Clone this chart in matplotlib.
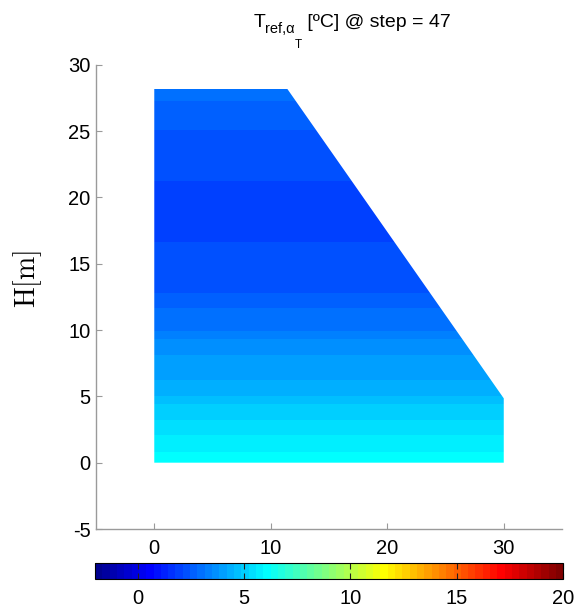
import numpy as np
import matplotlib
matplotlib.use("Agg")
import matplotlib.pyplot as plt
from matplotlib.colors import ListedColormap, Normalize
from matplotlib.patches import Polygon
from matplotlib.cm import ScalarMappable

plt.rcParams['font.family'] = ['Liberation Sans', 'DejaVu Sans']
plt.rcParams['axes.unicode_minus'] = False

# ---- data ----
dam_x = [0.0, 30.0, 30.0, 11.4, 0.0]
dam_y = [0.0, 0.0, 4.85, 28.2, 28.2]
H_nodes = [0.0, 0.8, 2.1, 3.2, 4.4, 5.0, 6.25, 8.1, 9.3, 9.9, 11.7, 12.8,
           16.6, 19.0, 21.2, 25.1, 27.3, 28.2]
T_nodes = [6.1, 5.906, 5.5625, 5.219, 4.875, 4.531, 4.1875, 3.844, 3.5, 3.156,
           2.8125, 2.469, 2.125, 1.95, 2.125, 2.469, 2.8125, 3.0]
c_min, c_max = -2.0, 20.0
x_ticks = [0, 10, 20, 30]
y_ticks = [-5, 0, 5, 10, 15, 20, 25, 30]
cb_ticks = [0, 5, 10, 15, 20]
step = 47


# MATLAB-style jet(64)
def matlab_jet(m=64):
    n = int(np.ceil(m / 4))
    u = np.concatenate([np.arange(1, n + 1) / n, np.ones(n - 1), np.arange(n, 0, -1) / n])
    g = int(np.ceil(n / 2)) - (1 if m % 4 == 1 else 0) + np.arange(1, len(u) + 1)
    r = g + n
    b = g - n
    J = np.zeros((m, 3))
    for col, idx in ((0, r), (1, g), (2, b)):
        ok = (idx >= 1) & (idx <= m)
        J[idx[ok] - 1, col] = u[ok]
    return J


jet64 = ListedColormap(matlab_jet(64))
levels = np.linspace(c_min, c_max, 65)

W, H = 575, 608
fig = plt.figure(figsize=(W / 100, H / 100), dpi=100)
ax = fig.add_axes([0.1670, 0.1299, 0.8104, 0.7637])

ys = np.linspace(min(dam_y), max(dam_y), 1200)
xs = np.array([min(dam_x), max(dam_x)])
XX, YY = np.meshgrid(xs, ys)
TT = np.interp(YY, H_nodes, T_nodes)
cs = ax.contourf(XX, YY, TT, levels=levels, cmap=jet64, vmin=c_min, vmax=c_max)
poly = Polygon(np.column_stack([dam_x, dam_y]), closed=True,
               facecolor='none', edgecolor='none')
ax.add_patch(poly)
cs.set_clip_path(poly)

ax.set_xlim(-5, 35)
ax.set_ylim(-5, 30)
ax.set_xticks(x_ticks)
ax.set_yticks(y_ticks)
for s in ('top', 'right'):
    ax.spines[s].set_visible(False)
for s in ('left', 'bottom'):
    ax.spines[s].set_color('#9a9a9a')
    ax.spines[s].set_linewidth(1.0)
ax.tick_params(direction='in', length=4, width=0.8, color='#9a9a9a',
               labelsize=14.5, labelcolor='black')
ax.tick_params(axis='x', pad=7)
ax.tick_params(axis='y', pad=4)

# Title built MATLAB-tex style: T_{ref,\alpha_T} [ºC] @ step = 47
renderer = fig.canvas.get_renderer()
pieces = [("T", 14, 0), ("ref,α", 10.5, -6), ("T", 8.5, -21),
          (" [ºC] @ step = %d" % step, 14, 0)]
texts = []
for s, fs, dy in pieces:
    t = fig.text(0, 0, s, fontsize=fs, ha='left', va='baseline')
    texts.append((t, dy))
widths = [t.get_window_extent(renderer).width for t, _ in texts]
x_px = 451.0 - sum(widths)
base_px = H - 27.0
for (t, dy), w in zip(texts, widths):
    t.set_position((x_px / W, (base_px + dy) / H))
    x_px += w

fig.text(28 / W, 1 - 278.5 / H, r'$\mathrm{H[m]}$', math_fontfamily='cm',
         fontsize=20, rotation=90, ha='center', va='center')

cax = fig.add_axes([0.1652, 0.0477, 0.8144, 0.0258])
sm = ScalarMappable(norm=Normalize(c_min, c_max), cmap=jet64)
cb = fig.colorbar(sm, cax=cax, orientation='horizontal', ticks=cb_ticks)
cb.outline.set_linewidth(0.8)
cb.outline.set_edgecolor('black')
cax.xaxis.set_ticks_position('both')
cax.tick_params(direction='in', length=4, width=0.8, color='#222222',
                labelsize=14.5, pad=7, labelbottom=True, labeltop=False)

fig.savefig('out.png', dpi=100)
